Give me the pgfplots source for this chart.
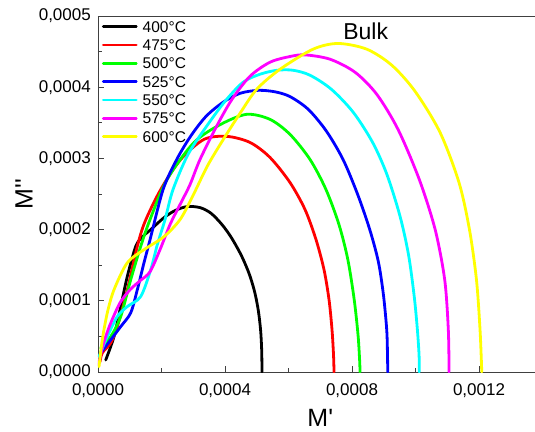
\documentclass[border=0pt]{standalone}
\usepackage{fontspec}
\setmainfont{Liberation Sans}
\newfontfamily\plainsans{Liberation Sans}
\usepackage{pgfplots}
\pgfplotsset{compat=1.18}
\definecolor{cgreen}{RGB}{0,255,0}
\definecolor{ccyan}{RGB}{0,255,255}
\definecolor{cmag}{RGB}{255,0,255}
\definecolor{cyel}{RGB}{255,255,0}
\definecolor{cred}{RGB}{255,0,0}
\definecolor{cblue}{RGB}{0,0,255}
\begin{document}
\begin{tikzpicture}
\begin{axis}[
  name=ax,
  scale only axis,
  width=444.5bp, height=356bp,
  xmin=0, xmax=0.0014, ymin=0, ymax=0.0005,
  xtick={0,0.0004,0.0008,0.0012},
  ytick={0,0.0001,0.0002,0.0003,0.0004,0.0005},
  minor x tick num=1, minor y tick num=1,
  xtick pos=left, ytick pos=left,
  tick align=inside,
  major tick length=6bp, minor tick length=4bp,
  scaled x ticks=false, scaled y ticks=false,
  axis line style={black!75, line width=1pt},
  every tick/.style={black!75, line width=0.8pt},
  /pgf/number format/.cd, fixed, fixed zerofill, precision=4, use comma, assume math mode=true,
  /pgfplots/.cd,
  tick label style={font=\fontsize{17bp}{19bp}\selectfont},
  yticklabel style={inner sep=0pt, xshift=-7bp},
  xticklabel style={inner sep=0pt, anchor=north, yshift=-11bp},
  xlabel={\plainsans M'},
  label style={font=\fontsize{25bp}{28bp}\selectfont},
  xlabel style={at={(axis description cs:0.5,0)}, anchor=center, yshift=-46bp},
  legend style={at={(axis description cs:0,1)}, anchor=north west, xshift=3.7bp, yshift=-5bp,
    draw=none, fill=none, inner sep=0pt, font=\fontsize{15.5bp}{17bp}\selectfont,
    nodes={inner sep=0pt, text height=11bp, text depth=0pt}, row sep=7.3bp, column sep=5bp},
  legend cell align=left,
  legend image code/.code={\draw[#1] (0bp,0bp) -- (33bp,0bp);},
  every axis plot/.append style={line width=2.8bp, line join=round, line cap=round, smooth, tension=0.5},
]
\addplot[black] coordinates {(0.243e-4,0.169e-4) (0.504e-4,0.497e-4) (0.715e-4,0.919e-4) (0.923e-4,1.342e-4) (1.188e-4,1.764e-4) (1.40e-4,1.90e-4) (1.638e-4,1.991e-4) (2.079e-4,2.168e-4) (2.426e-4,2.267e-4) (2.804e-4,2.323e-4) (3.213e-4,2.309e-4) (3.560e-4,2.229e-4) (3.906e-4,2.070e-4) (4.20e-4,1.888e-4) (4.52e-4,1.632e-4) (4.77e-4,1.369e-4) (4.94e-4,1.114e-4) (5.05e-4,0.861e-4) (5.12e-4,0.595e-4) (5.155e-4,0.315e-4) (5.166e-4,0)};
\addlegendentry{400°C}
\addplot[cred] coordinates {(0.063e-4,0.141e-4) (0.135e-4,0.268e-4) (0.400e-4,0.408e-4) (0.608e-4,0.638e-4) (0.923e-4,1.155e-4) (1.238e-4,1.764e-4) (1.481e-4,2.112e-4) (1.975e-4,2.563e-4) (2.605e-4,2.985e-4) (3.339e-4,3.267e-4) (4.064e-4,3.309e-4) (4.788e-4,3.224e-4) (5.418e-4,3.013e-4) (6.048e-4,2.661e-4) (6.521e-4,2.281e-4) (6.867e-4,1.859e-4) (7.119e-4,1.436e-4) (7.277e-4,1.014e-4) (7.371e-4,0.591e-4) (7.418e-4,0.239e-4) (7.434e-4,0)};
\addlegendentry{475°C}
\addplot[cgreen] coordinates {(0.085e-4,0.338e-4) (0.400e-4,0.497e-4) (0.715e-4,0.779e-4) (1.030e-4,1.295e-4) (1.345e-4,1.764e-4) (1.638e-4,2.140e-4) (2.174e-4,2.703e-4) (3.024e-4,3.224e-4) (3.865e-4,3.478e-4) (4.684e-4,3.619e-4) (5.418e-4,3.548e-4) (6.048e-4,3.337e-4) (6.678e-4,2.985e-4) (7.18e-4,2.563e-4) (7.59e-4,2.070e-4) (7.87e-4,1.577e-4) (8.07e-4,1.014e-4) (8.19e-4,0.521e-4) (8.24e-4,0.169e-4) (8.253e-4,0)};
\addlegendentry{500°C}
\addplot[cblue] coordinates {(0.085e-4,0.268e-4) (0.400e-4,0.451e-4) (0.715e-4,0.638e-4) (1.030e-4,0.831e-4) (1.238e-4,1.155e-4) (1.449e-4,1.535e-4) (1.640e-4,1.859e-4) (2.05e-4,2.563e-4) (2.48e-4,2.985e-4) (2.92e-4,3.313e-4) (3.402e-4,3.590e-4) (3.938e-4,3.788e-4) (4.473e-4,3.914e-4) (5.05e-4,3.956e-4) (5.576e-4,3.935e-4) (6.048e-4,3.868e-4) (6.62e-4,3.690e-4) (7.19e-4,3.385e-4) (7.718e-4,2.985e-4) (8.18e-4,2.492e-4) (8.56e-4,1.999e-4) (8.83e-4,1.549e-4) (8.99e-4,1.084e-4) (9.094e-4,0.591e-4) (9.118e-4,0.239e-4) (9.126e-4,0)};
\addlegendentry{525°C}
\addplot[ccyan] coordinates {(0.032e-4,0.215e-4) (0.293e-4,0.497e-4) (0.608e-4,0.779e-4) (0.923e-4,0.919e-4) (1.345e-4,1.060e-4) (1.660e-4,1.436e-4) (1.868e-4,1.788e-4) (2.111e-4,2.140e-4) (2.363e-4,2.563e-4) (2.835e-4,3.055e-4) (3.424e-4,3.454e-4) (4.001e-4,3.802e-4) (4.568e-4,4.069e-4) (5.103e-4,4.182e-4) (5.639e-4,4.238e-4) (6.143e-4,4.238e-4) (6.678e-4,4.168e-4) (7.35e-4,3.971e-4) (8.04e-4,3.647e-4) (8.65e-4,3.224e-4) (9.10e-4,2.774e-4) (9.513e-4,2.187e-4) (9.78e-4,1.647e-4) (9.96e-4,1.060e-4) (10.06e-4,0.591e-4) (10.112e-4,0.239e-4) (10.121e-4,0)};
\addlegendentry{550°C}
\addplot[cmag] coordinates {(0.016e-4,0.099e-4) (0.158e-4,0.380e-4) (0.378e-4,0.662e-4) (0.693e-4,0.972e-4) (1.008e-4,1.155e-4) (1.323e-4,1.281e-4) (1.638e-4,1.408e-4) (1.953e-4,1.718e-4) (2.268e-4,2.070e-4) (2.583e-4,2.351e-4) (2.898e-4,2.632e-4) (3.213e-4,2.985e-4) (3.739e-4,3.454e-4) (4.221e-4,3.830e-4) (4.788e-4,4.154e-4) (5.418e-4,4.351e-4) (6.048e-4,4.431e-4) (6.521e-4,4.454e-4) (7.308e-4,4.393e-4) (8.096e-4,4.210e-4) (8.78e-4,3.900e-4) (9.45e-4,3.407e-4) (10.12e-4,2.703e-4) (10.62e-4,1.999e-4) (10.92e-4,1.295e-4) (11.034e-4,0.591e-4) (11.057e-4,0)};
\addlegendentry{575°C}
\addplot[cyel] coordinates {(0.032e-4,0.075e-4) (0.135e-4,0.451e-4) (0.293e-4,0.831e-4) (0.504e-4,1.155e-4) (0.923e-4,1.535e-4) (1.449e-4,1.718e-4) (2.079e-4,1.901e-4) (2.583e-4,2.140e-4) (2.961e-4,2.450e-4) (3.443e-4,2.891e-4) (3.947e-4,3.267e-4) (4.473e-4,3.633e-4) (4.999e-4,3.971e-4) (5.733e-4,4.252e-4) (6.773e-4,4.534e-4) (7.560e-4,4.614e-4) (8.464e-4,4.534e-4) (9.25e-4,4.310e-4) (9.986e-4,3.942e-4) (10.773e-4,3.365e-4) (11.37e-4,2.661e-4) (11.70e-4,1.999e-4) (11.92e-4,1.295e-4) (12.033e-4,0.591e-4) (12.087e-4,0)};
\addlegendentry{600°C}
\node[font=\fontsize{23bp}{26bp}\selectfont, anchor=base, inner sep=0pt] at (axis cs:8.43e-4,4.67e-4) {Bulk};
\end{axis}
\node[rotate=90, font=\fontsize{25bp}{28bp}\selectfont, anchor=center] at ([xshift=-74bp]ax.west) {\plainsans M''};
\pgfresetboundingbox
\path[use as bounding box] (ax.south west) ++(-98bp,-60bp) rectangle ++(535bp,432bp);
\end{tikzpicture}
\end{document}
